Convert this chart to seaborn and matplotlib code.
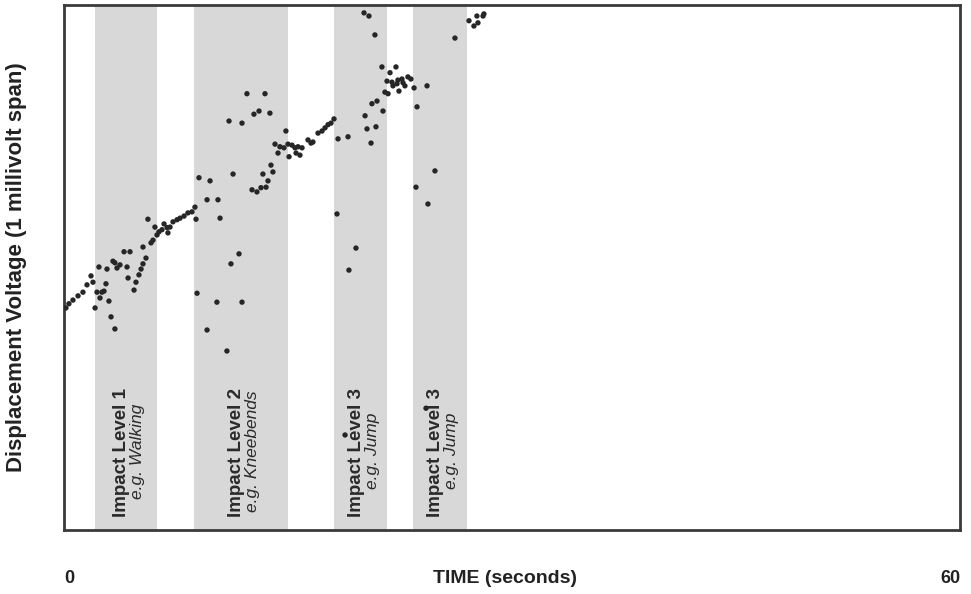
import matplotlib
matplotlib.use("Agg")
import matplotlib.pyplot as plt
import seaborn as sns
import pandas as pd

# Measured displacement voltage samples (time in s, voltage in % of the 1 mV span)
time_s = [
    0.13, 0.33, 0.60, 0.94, 1.27, 1.54, 1.81, 1.94, 2.08, 2.21, 2.41, 2.54, 2.68, 2.81,
    3.01, 3.15, 3.41, 2.34, 2.88, 3.28, 3.41, 3.55, 3.75, 4.22, 4.02, 4.42, 4.29, 4.69,
    4.82, 5.02, 5.16, 5.29, 5.49, 5.29, 5.62, 5.83, 5.96, 6.09, 6.23, 6.36, 6.56, 6.70,
    6.90, 6.96, 7.10, 7.30, 7.57, 7.77, 8.04, 8.30, 8.57, 8.77, 8.84, 9.04, 9.58, 8.91,
    9.58, 9.78, 11.32, 10.31, 10.45, 12.59, 12.92, 13.19, 13.53, 13.32, 13.66, 13.99,
    13.86, 11.72, 11.18, 10.24, 11.92, 18.28, 19.08, 19.55, 24.84, 23.57, 24.37, 12.25,
    13.46, 12.72, 13.06, 13.79, 11.05, 11.92, 14.86, 14.13, 14.46, 14.33, 14.73, 15.00,
    15.27, 15.47, 15.67, 15.94, 15.54, 15.80, 15.07, 16.34, 16.54, 16.67, 17.01, 17.28,
    17.48, 17.68, 17.88, 18.08, 18.35, 19.02, 20.09, 20.42, 20.82, 21.29, 21.83, 22.23,
    21.63, 21.96, 22.03, 22.36, 22.63, 22.30, 22.70, 23.03, 23.23, 22.83, 22.43, 23.44,
    24.31, 21.49, 21.70, 20.96, 20.62, 21.36, 20.16, 20.29, 20.89, 20.56, 23.64, 26.18,
    27.12, 27.45, 27.72, 27.65, 28.06, 28.12, 10.91, 18.82, 24.24,
]
voltage = [
    42.3, 43.1, 43.8, 44.6, 45.3, 46.7, 48.4, 47.2, 42.3, 45.3, 44.2, 45.3, 45.5, 46.9,
    43.6, 40.6, 38.3, 50.1, 49.7, 51.2, 50.9, 49.9, 50.5, 50.1, 53.0, 53.0, 48.0, 45.7,
    47.2, 48.6, 49.7, 50.7, 51.8, 53.9, 59.2, 54.7, 55.2, 57.7, 56.2, 56.8, 57.2, 58.3,
    57.6, 56.6, 57.7, 58.7, 59.1, 59.4, 59.8, 60.4, 60.6, 61.5, 59.2, 67.1, 62.9, 45.1,
    38.1, 66.5, 67.8, 62.9, 59.4, 64.8, 64.4, 65.2, 65.3, 67.8, 66.5, 68.2,
    69.5, 52.6, 50.7, 43.4, 43.4, 60.2, 49.5, 53.7, 68.4, 65.3, 62.1, 83.1,
    83.1, 79.2, 79.8, 79.4, 77.9, 77.5, 76.0, 73.5, 73.0, 71.8, 72.8, 73.5,
    73.3, 72.8, 73.0, 72.8, 71.8, 71.4, 71.1, 74.3, 73.7, 73.9, 75.6, 76.0,
    76.6, 77.2, 77.5, 78.3, 74.5, 74.9, 98.5, 97.9, 94.3, 88.2, 87.1, 88.2,
    85.5, 85.3, 84.6, 85.7, 85.9, 85.0, 85.2, 86.3, 85.9, 84.6, 83.6, 84.2,
    84.6, 83.4, 83.1, 81.7, 81.2, 79.8, 78.9, 76.4, 76.8, 73.7, 80.6, 93.7,
    97.0, 96.0, 96.6, 97.9, 97.9, 98.3, 34.1, 18.1, 23.2,
]

# Impact test intervals (seconds) and their annotations
band_start = [2.08, 8.70, 18.08, 23.37]
band_end = [6.23, 15.00, 21.63, 26.98]
band_title = ["Impact Level 1", "Impact Level 2", "Impact Level 3", "Impact Level 3"]
band_example = ["e.g. Walking", "e.g. Kneebends", "e.g. Jump", "e.g. Jump"]

x_tick_values = [0, 60]
x_tick_labels = ["0", "60"]

df = pd.DataFrame({"time": time_s, "voltage": voltage})

sns.set_theme(style="white")
plt.rcParams["font.family"] = ["Liberation Sans", "DejaVu Sans"]

fig = plt.figure(figsize=(9.71, 5.94), dpi=100)
ax = fig.add_axes([0.0659, 0.1077, 0.9228, 0.8839])

for s, e, title, example in zip(band_start, band_end, band_title, band_example):
    ax.axvspan(s, e, color="#d8d8d8", lw=0, zorder=0)
    mid = (s + e) / 2
    ax.text(mid - 0.3, 14.8, title, rotation=90, ha="center", va="center",
            fontsize=13.5, fontweight="bold", color="#2a2a2a", zorder=1)
    ax.text(mid + 0.8, 15.0, example, rotation=90, ha="center", va="center",
            fontsize=12.5, fontstyle="italic", color="#2a2a2a", zorder=1)

sns.scatterplot(data=df, x="time", y="voltage", ax=ax, s=15, color="#262626",
                edgecolor="none", linewidth=0, zorder=3, legend=False)

ax.set_xlim(0, 60)
ax.set_ylim(0, 100)
ax.set_yticks([])
ax.set_xticks(x_tick_values)
ax.set_xticklabels(x_tick_labels, fontsize=13, fontweight="bold", color="#222222")
ax.tick_params(axis="x", length=0, pad=29)
for lbl, ha in zip(ax.get_xticklabels(), ["left", "right"]):
    lbl.set_horizontalalignment(ha)

ax.set_xlabel("TIME (seconds)", fontsize=14, fontweight="bold", color="#222222")
ax.xaxis.set_label_coords(0.492, -0.092)
ax.xaxis.label.set_verticalalignment("center")
ax.set_ylabel("Displacement Voltage (1 millivolt span)", fontsize=16,
              fontweight="bold", color="#222222")
ax.yaxis.set_label_coords(-0.041, 0.5)

for spine in ax.spines.values():
    spine.set_visible(True)
    spine.set_color("#3a3a3a")
    spine.set_linewidth(2.0)

fig.savefig("out.png", dpi=100, facecolor="white")
